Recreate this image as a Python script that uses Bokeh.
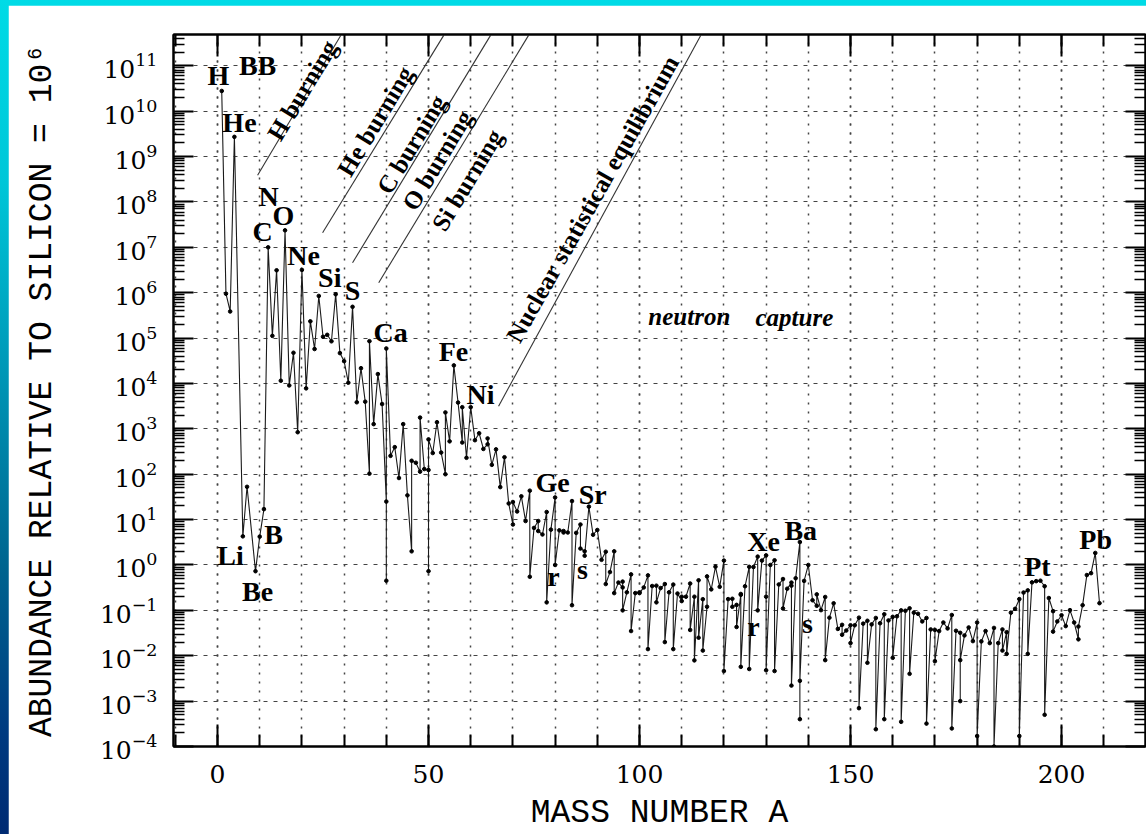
from bokeh.plotting import figure
from bokeh.layouts import column
from bokeh.models import (Range1d, LinearAxis, LogAxis, FixedTicker, SingleIntervalTicker,
                          LogTickFormatter, CustomJSTickFormatter, ColumnDataSource)
from bokeh.core.properties import value
from bokeh.embed import file_html
from bokeh.resources import INLINE
import math

# ---------------- data: isotopes ordered by mass number (then by Z) ----------------
mass_number = [
    1, 2, 3, 4, 6, 7, 9, 10, 11, 12, 13, 14, 15, 16, 17, 18, 19, 20, 21, 22,
    23, 24, 25, 26, 27, 28, 29, 30, 31, 32, 33, 34, 35, 36, 36, 37, 38, 39, 40, 40,
    40, 41, 42, 43, 44, 45, 46, 46, 47, 48, 48, 49, 50, 50, 50, 51, 52, 53, 54, 54,
    55, 56, 57, 58, 58, 59, 60, 61, 62, 63, 64, 64, 65, 66, 67, 68, 69, 70, 70, 71,
    72, 73, 74, 74, 75, 76, 76, 77, 78, 78, 79, 80, 80, 81, 82, 82, 83, 84, 84, 85,
    86, 86, 87, 87, 88, 89, 90, 91, 92, 92, 93, 94, 94, 95, 96, 96, 96, 97, 98, 98,
    99, 100, 100, 101, 102, 102, 103, 104, 104, 105, 106, 106, 107, 108, 108, 109, 110, 110, 111, 112,
    112, 113, 113, 114, 114, 115, 115, 116, 116, 117, 118, 119, 120, 120, 121, 122, 122, 123, 123, 124,
    124, 124, 125, 126, 126, 127, 128, 128, 129, 130, 130, 130, 131, 132, 132, 133, 134, 134, 135, 136,
    136, 136, 137, 138, 138, 138, 139, 140, 141, 142, 142, 143, 144, 144, 145, 146, 147, 148, 148, 149,
    150, 150, 151, 152, 152, 153, 154, 154, 155, 156, 156, 157, 158, 158, 159, 160, 160, 161, 162, 162,
    163, 164, 164, 165, 166, 167, 168, 168, 169, 170, 170, 171, 172, 173, 174, 174, 175, 176, 176, 176,
    177, 178, 179, 180, 180, 180, 181, 182, 183, 184, 184, 185, 186, 186, 187, 187, 188, 189, 190, 190,
    191, 192, 192, 193, 194, 195, 196, 196, 197, 198, 198, 199, 200, 201, 202, 203, 204, 204, 205, 206,
    207, 208, 209,
]

abundance = [
    2.79e10, 9.5e5, 3.86e5, 2.72e9, 4.28, 52.8, 0.73, 4.22, 17.0, 1.0e7, 1.12e5, 3.12e6, 1.15e4, 2.37e7, 9.04e3, 4.75e4, 843, 3.18e6, 7.8e3, 2.34e5,
    5.74e4, 8.49e5, 1.07e5, 1.18e5, 8.49e4, 9.22e5, 4.67e4, 3.1e4, 1.04e4, 4.89e5, 3.85e3, 2.17e4, 3.97e3, 103, 8.55e4, 1.27e3, 1.61e4, 3.52e3, 25, 0.45,
    5.9e4, 254, 395, 82.5, 1.27e3, 34.2, 2.0, 198, 179, 114, 1.77e3, 130, 124, 0.73, 586, 293, 1.4e3, 300, 100, 2.3e3,
    530, 2.5e4, 3.8e3, 500, 3.0e3, 230, 3.0e3, 562, 800, 361, 456, 615, 161, 353, 52, 237, 22.7, 7.8, 24.4, 15.1,
    32.6, 9.3, 43.4, 0.55, 6.56, 9.3, 5.6, 4.7, 14.7, 0.15, 6.0, 30.8, 1.0, 5.8, 5.6, 5.2, 5.2, 25.6, 0.13, 5.1,
    7.8, 2.3, 2.0, 1.6, 19.3, 4.64, 5.9, 1.3, 1.96, 0.38, 0.698, 2.0, 0.24, 0.41, 0.32, 0.43, 0.1, 0.25, 0.62, 0.035,
    0.24, 0.25, 0.24, 0.32, 0.59, 0.014, 0.344, 0.35, 0.15, 0.31, 0.38, 0.02, 0.25, 0.37, 0.014, 0.235, 0.16, 0.2, 0.2, 0.39,
    0.037, 0.2, 0.0079, 0.46, 0.025, 0.176, 0.013, 0.12, 0.56, 0.29, 0.92, 0.33, 1.25, 0.0046, 0.177, 0.18, 0.12, 0.132, 0.043, 0.22,
    0.23, 0.0057, 0.34, 0.91, 0.0051, 0.9, 1.53, 0.10, 1.25, 1.63, 0.2, 0.0048, 1.0, 1.27, 0.0046, 0.372, 0.49, 0.11, 0.30, 0.41,
    0.35, 0.0022, 0.51, 3.2, 0.0004, 0.0028, 0.446, 1.0, 0.167, 0.126, 0.225, 0.101, 0.197, 0.008, 0.069, 0.143, 0.039, 0.048, 0.029, 0.036,
    0.047, 0.019, 0.047, 0.069, 0.0007, 0.051, 0.059, 0.007, 0.049, 0.068, 0.00024, 0.052, 0.082, 0.0004, 0.06, 0.072, 0.009, 0.074, 0.1, 0.00035,
    0.098, 0.111, 0.004, 0.089, 0.084, 0.057, 0.068, 0.00032, 0.038, 0.037, 0.0076, 0.035, 0.054, 0.040, 0.079, 0.00025, 0.0355, 0.032, 0.001, 0.008,
    0.028, 0.042, 0.021, 0.054, 2.5e-6, 0.00017, 0.0207, 0.035, 0.019, 0.041, 0.0001, 0.019, 0.038, 0.013, 0.033, 0.011, 0.089, 0.108, 0.177, 0.00017,
    0.247, 0.276, 0.011, 0.414, 0.44, 0.45, 0.34, 0.0005, 0.187, 0.096, 0.034, 0.057, 0.078, 0.045, 0.101, 0.054, 0.023, 0.044, 0.13, 0.6,
    0.66, 1.84, 0.144,
]

# element labels (text, mass-number position, log10 abundance position)
element_text = ["H", "BB", "He", "N", "O", "C", "Ne", "Si", "S", "Ca", "Fe", "Ni", "Ge", "Sr",
                "r", "s", "Xe", "Ba", "r", "s", "Pt", "Pb", "Li", "Be", "B"]
element_x = [0.2, 9.5, 5.2, 12.1, 15.6, 10.7, 20.4, 26.6, 32.0, 41.0, 55.9, 62.3, 79.4, 88.9,
             79.6, 86.5, 129.4, 138.2, 127.0, 139.8, 194.3, 208.1, 3.1, 9.5, 13.3]
element_logy = [10.79, 11.01, 9.74, 8.11, 7.71, 7.34, 6.81, 6.33, 6.05, 5.12, 4.70, 3.76, 1.82, 1.56,
                -0.26, -0.09, 0.51, 0.75, -1.36, -1.30, -0.04, 0.57, 0.20, -0.59, 0.68]

# process boundary lines (mass number, log10 abundance at both ends)
process_x0 = [9.5, 24.9, 32.0, 38.2, 66.6]
process_ly0 = [8.59, 7.32, 6.66, 6.22, 3.50]
process_x1 = [29.2, 53.6, 64.7, 73.7, 114.5]
process_ly1 = [11.67, 11.67, 11.67, 11.67, 11.67]

process_text = ["H burning", "He burning", "C burning", "O burning", "Si burning",
                "Nuclear statistical equilibrium"]
process_tx = [20.1, 37.4, 46.0, 52.1, 59.2, 88.9]
process_tly = [10.46, 9.78, 9.27, 8.92, 8.48, 8.07]
process_angle_deg = [58.8, 58.8, 58.8, 58.8, 58.8, 60.5]

capture_text = ["neutron", "capture"]
capture_x = [111.8, 136.7]
capture_logy = [5.47, 5.45]

# ---------------- figure ----------------
serif = "DejaVu Serif"
bold_serif = "Liberation Serif"

p = figure(width=1138, height=829, x_range=Range1d(-10.43, 219.9),
           y_range=Range1d(1e-4, 10 ** 11.69), y_axis_type="log",
           output_backend="svg", toolbar_location=None,
           min_border_left=165, min_border_top=29, min_border_bottom=86, min_border_right=1,
           background_fill_color="white", border_fill_color="white")
p.margin = (5, 0, 0, 8)
p.outline_line_color = "black"
p.outline_line_width = 2

decades = list(range(-4, 12))
y_major = [10.0 ** k for k in decades]
y_minor = [m * 10.0 ** k for k in range(-5, 12) for m in range(2, 10)]
yticker = FixedTicker(ticks=y_major, minor_ticks=y_minor)
xticker = SingleIntervalTicker(interval=50, num_minor_ticks=5)

# left axis
ya = p.yaxis[0]
ya.ticker = yticker
ya.formatter = LogTickFormatter()
ya.major_tick_in = 20
ya.major_tick_out = 0
ya.minor_tick_in = 11
ya.minor_tick_out = 0
ya.major_tick_line_width = 2
ya.minor_tick_line_width = 1.3
ya.axis_line_width = 2
ya.major_label_text_font = serif
ya.major_label_text_font_size = "25px"
ya.major_label_text_color = "black"
ya.major_label_standoff = 16
ya.axis_label = "ABUNDANCE RELATIVE TO SILICON = 10\u2076"
ya.axis_label_text_font = "Liberation Mono"
ya.axis_label_text_font_size = "33px"
ya.axis_label_text_font_style = "normal"
ya.axis_label_text_color = "black"
ya.axis_label_standoff = 36

# bottom axis
xa = p.xaxis[0]
xa.ticker = xticker
xa.major_tick_in = 22
xa.major_tick_out = 0
xa.minor_tick_in = 12
xa.minor_tick_out = 0
xa.major_tick_line_width = 2
xa.minor_tick_line_width = 2
xa.axis_line_width = 2
xa.major_label_text_font = serif
xa.major_label_text_font_size = "25px"
xa.major_label_text_color = "black"
xa.major_label_standoff = 18
xa.axis_label = "MASS NUMBER A"
xa.axis_label_text_font = "Liberation Mono"
xa.axis_label_text_font_size = "33px"
xa.axis_label_text_font_style = "normal"
xa.axis_label_text_color = "black"
xa.axis_label_standoff = 9

# right and top axes (ticks only, no labels)
blank = CustomJSTickFormatter(code="return ''")
ra = LogAxis(ticker=yticker, formatter=blank, major_label_text_color=None,
             major_label_text_font_size="2px", major_label_standoff=0,
             major_tick_in=20, major_tick_out=0, minor_tick_in=11, minor_tick_out=0,
             major_tick_line_width=2, minor_tick_line_width=1.3, axis_line_width=2)
p.add_layout(ra, "right")
ta = LinearAxis(ticker=xticker, formatter=blank, major_label_text_color=None,
                major_label_text_font_size="2px", major_label_standoff=0,
                major_tick_in=22, major_tick_out=0, minor_tick_in=12, minor_tick_out=0,
                major_tick_line_width=2, minor_tick_line_width=2, axis_line_width=2)
p.add_layout(ta, "above")

# grids
p.ygrid.ticker = yticker
p.ygrid.grid_line_color = "#444444"
p.ygrid.grid_line_dash = "4 6"
p.ygrid.grid_line_width = 1.2
p.xgrid.ticker = xticker
p.xgrid.grid_line_color = "#444444"
p.xgrid.grid_line_dash = "2 7"
p.xgrid.grid_line_width = 1.5
p.xgrid.minor_grid_line_color = "#444444"
p.xgrid.minor_grid_line_dash = "2 7"
p.xgrid.minor_grid_line_width = 1.5

# process lines
p.segment(x0=process_x0, y0=[10 ** v for v in process_ly0],
          x1=process_x1, y1=[10 ** v for v in process_ly1],
          line_color="#333333", line_width=1.1)

# data
src = ColumnDataSource(dict(a=mass_number, y=abundance))
p.line("a", "y", source=src, line_color="#1a1a1a", line_width=1.1)
p.scatter("a", "y", source=src, size=3.6, fill_color="black", line_color="black")

# element labels
p.text(x=element_x, y=[10 ** v for v in element_logy], text=element_text,
       text_font=value(bold_serif), text_font_style="bold", text_font_size="28px",
       text_align="center", text_baseline="middle", text_color="black")

# process labels
p.text(x=process_tx, y=[10 ** v for v in process_tly], text=process_text,
       angle=[math.radians(a) for a in process_angle_deg],
       text_font=value(bold_serif), text_font_style="bold", text_font_size="25px",
       text_align="center", text_baseline="middle", text_color="black")

p.text(x=capture_x, y=[10 ** v for v in capture_logy], text=capture_text,
       text_font=value(bold_serif), text_font_style="bold italic", text_font_size="25px",
       text_align="center", text_baseline="middle", text_color="black")

page = column(p, styles={"background": "linear-gradient(to bottom, #00dbe6 0%, #00c6d8 22%, "
                                       "#0096b6 45%, #00648f 68%, #003a80 88%, #002a72 100%)"})

open("out.html", "w").write(file_html(page, INLINE))
